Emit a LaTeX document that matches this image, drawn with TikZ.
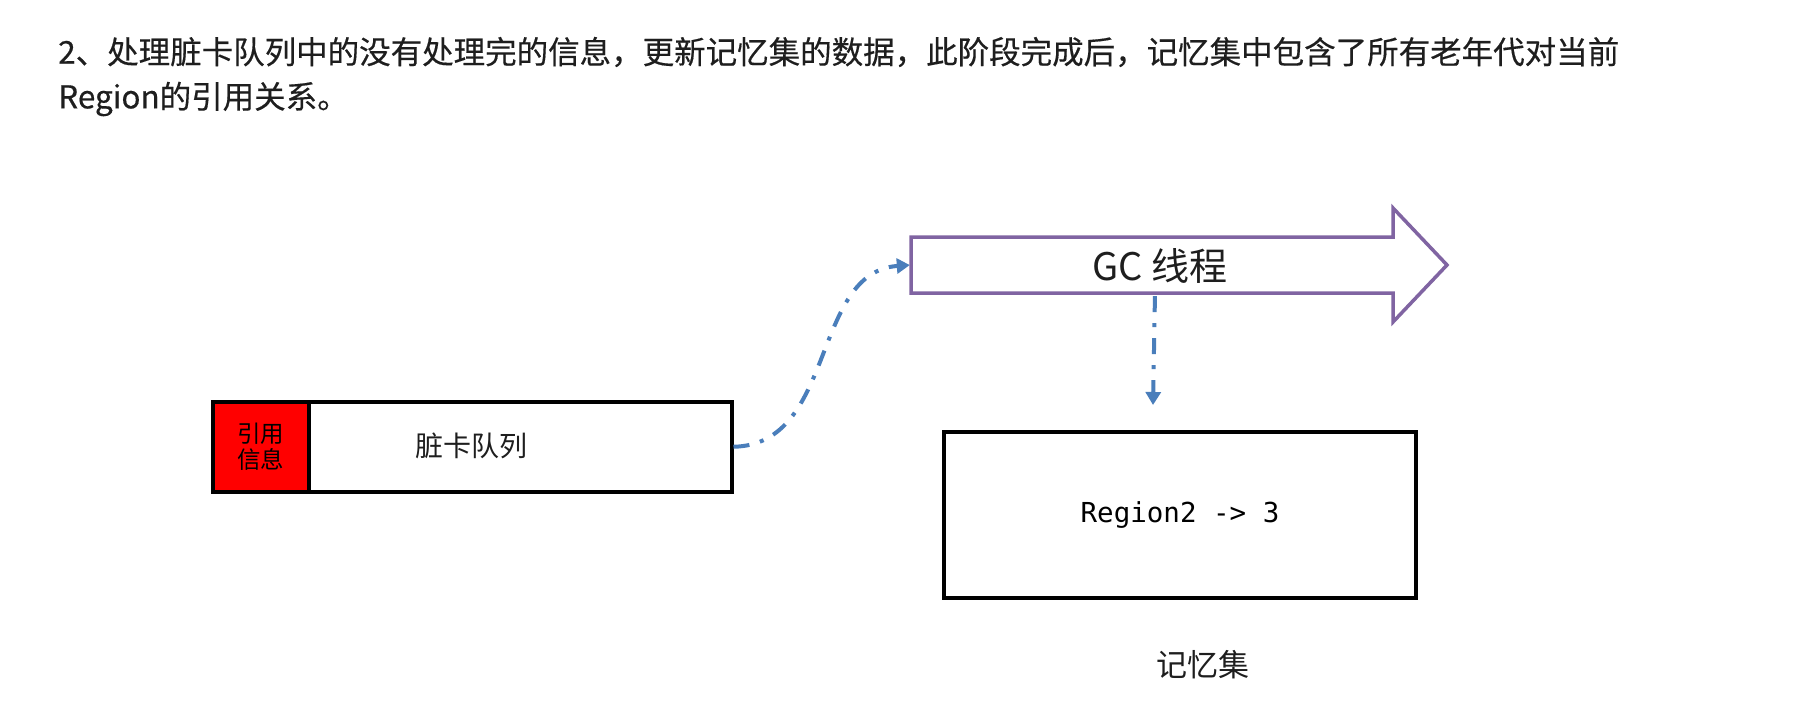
\documentclass[tikz,border=0pt]{standalone}
\usepackage{fontspec}
\setmainfont{Noto Sans CJK SC}
\newfontfamily\headfont{Noto Sans CJK SC}[FakeBold=0.4]
\newfontfamily\codefont{DejaVu Sans Mono}
\usetikzlibrary{arrows.meta}
\definecolor{gcpurple}{RGB}{128,100,162}
\definecolor{linkblue}{RGB}{74,126,187}
\definecolor{txt}{RGB}{30,30,30}
\begin{document}
\begin{tikzpicture}[x=1pt,y=-1pt,
  heading/.style={anchor=west,inner sep=0pt,font=\headfont\fontsize{31.5}{38}\selectfont,text=txt},
  box/.style={draw=black,line width=3.5pt,fill=white,inner sep=0pt},
  link/.style={draw=linkblue,line width=4pt,dash pattern=on 16pt off 11pt on 4pt off 11pt,
    -{Triangle[width=15pt,length=13pt]}},
  lbl/.style={inner sep=0pt,text=txt},
]
\useasboundingbox[fill=white] (0,0) rectangle (1806,704);

% heading text
\node[heading] (h1) at (58,52) {2、处理脏卡队列中的没有处理完的信息，更新记忆集的数据，此阶段完成后，记忆集中包含了所有老年代对当前};
\node[heading] (h2) at (58,99) {Region的引用关系。};

% dirty card queue
\node[box,minimum width=519pt,minimum height=90pt,anchor=north west] (queue) at (211,400) {};
\node[draw=black,line width=3.5pt,fill=red,minimum width=96pt,minimum height=90pt,
  anchor=north west,inner sep=0pt,align=center,
  font=\fontsize{23.5}{26}\selectfont] (ref) at (211,400) {引用\\信息};
\node[lbl,font=\fontsize{28}{32}\selectfont] (qlabel) at (471,446) {脏卡队列};

% GC thread arrow
\draw[gcpurple,line width=3.5pt,line join=miter]
  (911,237) -- (1393,237) -- (1393,208) -- (1447,265) -- (1393,322) -- (1393,293) -- (911,293) -- cycle;
\node[inner sep=0pt,minimum width=482pt,minimum height=56pt] (gc) at (1152,265) {};
\node[lbl,font=\fontsize{38}{42}\selectfont] (gctext) at (1160,266) {GC 线程};

% remembered set
\node[box,minimum width=472pt,minimum height=166pt] (rs) at (1180,515)
  {\codefont\fontsize{27.5}{32}\selectfont Region2 -> 3};
\node[lbl,font=\fontsize{31}{36}\selectfont] (rslabel) at (1203,665) {记忆集};

% connectors
\coordinate (rsin) at (1153,405);
\draw[link,shorten >=1pt] (queue.east) .. controls +(103,-2) and +(-100,7) .. (gc.west);
\draw[link,shorten <=3pt] ([xshift=3pt]gc.south) -- (rsin);
\end{tikzpicture}
\end{document}
